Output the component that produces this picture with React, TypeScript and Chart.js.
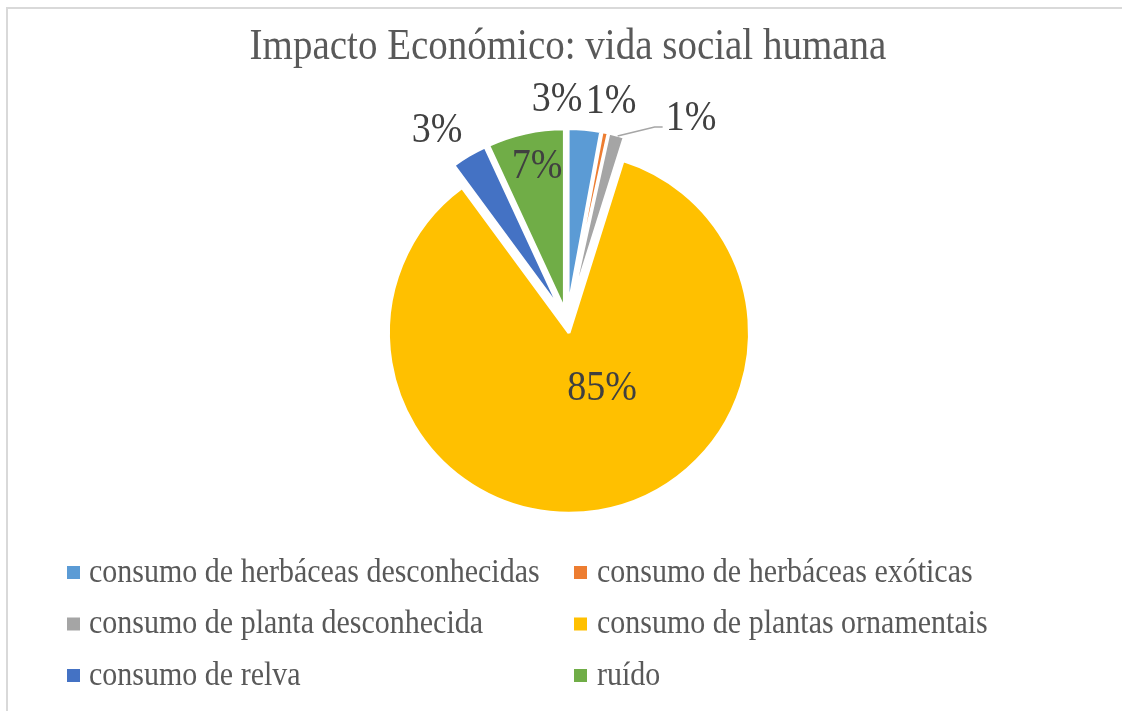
import React, { useEffect, useRef } from "react";
import { Chart, registerables } from "chart.js";

Chart.register(...registerables);

const titleText = "Impacto Económico: vida social humana";
const categories = [
  "consumo de herbáceas desconhecidas",
  "consumo de herbáceas exóticas",
  "consumo de planta desconhecida",
  "consumo de plantas ornamentais",
  "consumo de relva",
  "ruído",
];
const shares = [2.9, 0.55, 1.4, 85.05, 3.2, 6.9];
const percentLabels = ["3%", "1%", "1%", "85%", "3%", "7%"];
const sliceColors = ["#5B9BD5", "#ED7D31", "#A5A5A5", "#FFC000", "#4472C4", "#70AD47"];

// label placement (style only): radial distance from slice apex, angular shift in degrees, leader line
const labelPlacement = [
  { dist: 209, shift: -7.8, leader: false },
  { dist: 212, shift: -0.1, leader: false },
  { dist: 225, shift: 16.6, leader: true },
  { dist: 64.5, shift: -17.75, leader: false },
  { dist: 218, shift: -3.8, leader: false },
  { dist: 145, shift: 1.4, leader: false },
];

const SERIF = "'Liberation Serif', 'Times New Roman', serif";
const EXPLODE = 12; // explosion distance of every slice, px
const STRETCH = 1.12;

function drawText(ctx: any, text: string, x: number, y: number, align: string) {
  ctx.save();
  ctx.translate(x, y);
  ctx.scale(1, STRETCH);
  ctx.textAlign = align;
  ctx.textBaseline = "middle";
  ctx.fillText(text, 0, 0);
  ctx.restore();
}

const framePlugin = {
  id: "frame",
  beforeDraw(chart: any) {
    const ctx = chart.ctx;
    ctx.save();
    ctx.strokeStyle = "#d9d9d9";
    ctx.lineWidth = 2;
    ctx.beginPath();
    ctx.moveTo(7, chart.height);
    ctx.lineTo(7, 8);
    ctx.lineTo(chart.width, 8);
    ctx.stroke();
    ctx.restore();
  },
};

// Excel-style explosion: translate each arc element along its bisector, then let the element draw itself
const explodePlugin = {
  id: "explode",
  beforeDatasetDraw(chart: any, args: any) {
    const meta = chart.getDatasetMeta(args.index);
    const ctx = chart.ctx;
    meta.data.forEach((arc: any) => {
      const p = arc.getProps(["startAngle", "endAngle"], true);
      const mid = (p.startAngle + p.endAngle) / 2;
      ctx.save();
      ctx.translate(EXPLODE * Math.cos(mid), EXPLODE * Math.sin(mid));
      arc.draw(ctx, chart.chartArea);
      ctx.restore();
    });
    return false;
  },
};

const titlePlugin = {
  id: "stretchTitle",
  afterDraw(chart: any) {
    const ctx = chart.ctx;
    ctx.save();
    ctx.font = `39px ${SERIF}`;
    ctx.fillStyle = "#595959";
    drawText(ctx, titleText, 568, 48, "center");
    ctx.restore();
  },
};

const labelPlugin = {
  id: "sliceLabels",
  afterDatasetsDraw(chart: any) {
    const ctx = chart.ctx;
    const meta = chart.getDatasetMeta(0);
    ctx.save();
    ctx.font = `38px ${SERIF}`;
    meta.data.forEach((arc: any, i: number) => {
      const p = arc.getProps(["x", "y", "startAngle", "endAngle", "outerRadius"], true);
      const off = EXPLODE;
      const mid = (p.startAngle + p.endAngle) / 2;
      const place = labelPlacement[i];
      const a = mid + (place.shift * Math.PI) / 180;
      const tx = p.x + (off + place.dist) * Math.cos(a);
      const ty = p.y + (off + place.dist) * Math.sin(a);
      const text = percentLabels[i];
      if (place.leader) {
        const ox = p.x + (off + p.outerRadius) * Math.cos(mid);
        const oy = p.y + (off + p.outerRadius) * Math.sin(mid);
        const w = ctx.measureText(text).width;
        const ex = tx - w / 2 - 3;
        const ey = ty + 8;
        ctx.strokeStyle = "#A6A6A6";
        ctx.lineWidth = 1.5;
        ctx.beginPath();
        ctx.moveTo(ox + 1, oy + 1);
        ctx.lineTo(ex - 8, ey);
        ctx.lineTo(ex, ey);
        ctx.stroke();
      }
      ctx.fillStyle = "#404040";
      drawText(ctx, text, tx, ty, "center");
    });
    ctx.restore();
  },
};

const gridLegendPlugin = {
  id: "gridLegend",
  afterDraw(chart: any) {
    const ctx = chart.ctx;
    const labels: string[] = chart.data.labels;
    const colors: string[] = chart.data.datasets[0].backgroundColor;
    const boxX = [67, 574];
    const textX = [89, 597];
    const rowY = [573, 624.5, 676];
    ctx.save();
    ctx.font = `30px ${SERIF}`;
    labels.forEach((lab, i) => {
      const col = i % 2;
      const row = Math.floor(i / 2);
      const y = rowY[row];
      ctx.fillStyle = colors[i];
      ctx.fillRect(boxX[col], y - 7, 13, 13);
      ctx.fillStyle = "#595959";
      drawText(ctx, lab, textX[col], y, "left");
    });
    ctx.restore();
  },
};

export default function App() {
  const ref = useRef<HTMLCanvasElement | null>(null);
  useEffect(() => {
    if (!ref.current) return;
    const chart = new Chart(ref.current, {
      type: "pie",
      data: {
        labels: categories,
        datasets: [
          {
            data: shares,
            backgroundColor: sliceColors,
            borderColor: "#ffffff",
            borderWidth: 3,
            offset: 0,
            hoverOffset: 0,
            radius: 180.5,
          } as any,
        ],
      },
      options: {
        responsive: false,
        animation: false,
        layout: { padding: { top: 72, bottom: 141, left: 12, right: 0 } },
        plugins: {
          title: { display: false },
          legend: { display: false },
          tooltip: { enabled: false },
        },
      } as any,
      plugins: [framePlugin, explodePlugin, labelPlugin, gridLegendPlugin, titlePlugin],
    });
    return () => chart.destroy();
  }, []);
  return (
    <div style={{ position: "absolute", left: 0, top: 0, width: 1122, height: 711, background: "#fff" }}>
      <canvas ref={ref} width={1122} height={711} style={{ display: "block" }} />
    </div>
  );
}
